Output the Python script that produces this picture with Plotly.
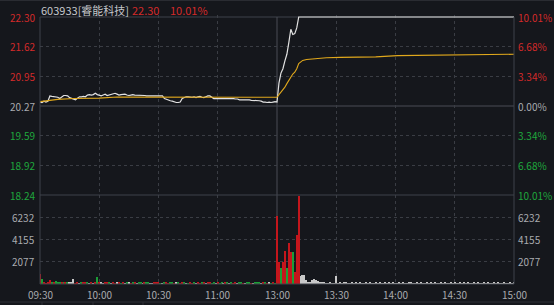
import plotly.graph_objects as go

# ---------------- data ----------------
stock_name = "603933[睿能科技]"
last_price = "22.30"
last_change = "10.01%"

time_labels = ["09:30", "10:00", "10:30", "11:00", "13:00", "13:30", "14:00", "14:30", "15:00"]
time_label_minute = [0, 30, 60, 90, 120, 150, 180, 210, 240]

price_levels = [22.30, 21.62, 20.95, 20.27, 19.59, 18.92, 18.24]
pct_labels = ["10.01%", "6.68%", "3.34%", "0.00%", "3.34%", "6.68%", "10.01%"]
level_side = ["up", "up", "up", "flat", "down", "down", "down"]
vol_levels = [2077, 4155, 6232]
vol_max = 8309

# morning price, one value per minute (09:30 .. 11:30)
price_am = [
    20.36, 20.35, 20.38, 20.36, 20.38, 20.50, 20.49, 20.48, 20.48, 20.47,
    20.44, 20.47, 20.51, 20.51, 20.50, 20.46, 20.44, 20.42, 20.41, 20.45,
    20.48, 20.48, 20.49, 20.48, 20.52, 20.53, 20.52, 20.53, 20.56, 20.53,
    20.52, 20.50, 20.52, 20.54, 20.51, 20.52, 20.53, 20.54, 20.56, 20.54,
    20.52, 20.53, 20.54, 20.54, 20.52, 20.51, 20.52, 20.53, 20.52, 20.52,
    20.52, 20.52, 20.51, 20.51, 20.50, 20.50, 20.51, 20.51, 20.51, 20.51,
    20.51, 20.51, 20.50, 20.44, 20.42, 20.40, 20.39, 20.38, 20.36, 20.35,
    20.35, 20.36, 20.44, 20.46, 20.48, 20.48, 20.47, 20.47, 20.48, 20.46,
    20.48, 20.49, 20.47, 20.46, 20.48, 20.50, 20.50, 20.47, 20.44, 20.44,
    20.44, 20.44, 20.45, 20.44, 20.44, 20.45, 20.44, 20.44, 20.44, 20.43,
    20.43, 20.41, 20.41, 20.42, 20.41, 20.41, 20.41, 20.40, 20.40, 20.40,
    20.39, 20.39, 20.38, 20.36, 20.36, 20.35, 20.36, 20.35, 20.36, 20.37,
    20.36,
]
# afternoon price (minute index, value); flat at limit-up after 13:11
price_pm_minute = [121, 122, 123, 124, 125, 126, 127, 128, 129, 130, 131, 240]
price_pm = [20.80, 21.02, 21.12, 21.30, 21.45, 21.72, 22.02, 21.90, 21.92, 22.05, 22.30, 22.30]

# average price line (minute index, value)
avg_minute = [0, 3, 6, 9, 17, 30, 39, 100, 101, 120, 121, 122, 123, 124, 125, 126, 127, 128,
              129, 130, 131, 132, 133, 135, 139, 145, 152, 170, 181, 218, 240]
avg_price = [20.37, 20.39, 20.41, 20.42, 20.44, 20.45, 20.475, 20.475, 20.465, 20.47, 20.53,
             20.58, 20.64, 20.70, 20.78, 20.86, 20.93, 21.00, 21.04, 21.12, 21.24, 21.28,
             21.31, 21.33, 21.35, 21.37, 21.38, 21.39, 21.42, 21.44, 21.45]

# volume per minute (0..240) and direction (r = up, g = down, w = unchanged)
volume = [
    930, 440, 120, 90, 220, 370, 140, 110, 280, 120,
    220, 110, 150, 100, 130, 140, 120, 440, 90, 110,
    80, 130, 140, 100, 150, 90, 160, 90, 120, 680,
    230, 120, 90, 110, 130, 120, 90, 100, 80, 130,
    110, 90, 100, 80, 120, 110, 90, 100, 130, 90,
    120, 100, 90, 110, 100, 120, 90, 80, 110, 130,
    100, 90, 80, 120, 140, 90, 100, 110, 90, 100,
    120, 90, 110, 100, 90, 80, 100, 90, 110, 90,
    100, 90, 130, 110, 90, 200, 100, 90, 110, 80,
    100, 90, 110, 80, 120, 100, 90, 110, 90, 100,
    90, 110, 100, 80, 90, 100, 120, 90, 80, 100,
    200, 110, 90, 120, 100, 90, 100, 80, 110, 90,
    6350, 2030, 1520, 2030, 3080, 1520, 3860, 3020, 3020, 1090,
    4580, 8250, 780, 840, 840, 370, 190, 190, 370, 470,
    370, 280, 190, 110, 110, 90, 90, 110, 90, 90,
    750, 90, 110, 90, 100, 120, 90, 90, 110, 90,
    100, 90, 120, 90, 90, 100, 90, 110, 90, 90,
    120, 90, 100, 90, 90, 110, 90, 100, 90, 120,
    90, 90, 100, 90, 110, 90, 90, 100, 120, 90,
    90, 110, 90, 100, 90, 90, 120, 90, 100, 90,
    110, 90, 90, 100, 90, 120, 90, 90, 110, 90,
    100, 90, 90, 120, 90, 100, 90, 110, 90, 90,
    100, 90, 120, 90, 90, 110, 90, 100, 90, 90,
    110, 90, 100, 90, 90, 120, 90, 90, 100, 90,
    150,
]
direction = (
    "rgrrrrgrgg" "grgrgwwwrr" "wgrrgwrwrg" "rwwrrgwrrw" "rgrwgwrgrw"
    "ggwrggwwrr" "rgwgrrggrw" "grrgwgrrgw" "rrgrwrrggw" "rggwrgwgrr"
    "wggrwggrwg" "ggwrgrwgrg"
    "rrgrrgrrgr" "rrwwwwwwww" "wwwwwwwwww" "wwwwwwwwww" "wwwwwwwwww"
    "wwwwwwwwww" "wwwwwwwwww" "wwwwwwwwww" "wwwwwwwwww" "wwwwwwwwww"
    "wwwwwwwwww" "wwwwwwwwww" "w"
)

# ---------------- styles ----------------
W, H = 554, 305
BG = "#15171c"
RED = "#d42a2a"
GREEN = "#1fa83c"
GREY = "#a9abaf"
GRID = "#3a3d44"
FRAME = "#3f424a"
FONT = "Noto Sans CJK SC, Liberation Sans, sans-serif"
BAR_COLORS = {"r": "#c4161c", "g": "#1c9e36", "w": "#c8c8c8"}
SIDE_COLORS = {"up": RED, "down": GREEN, "flat": GREY}

PL, PR, PT, PM, PB = 40, 514, 17, 195, 284
PAD = 2  # extra pixels above the price panel so the limit-up line is not clipped


def px(x):
    return x / W


def py(y):
    return 1 - y / H


price_per_px = (price_levels[0] - price_levels[-1]) / (PM - PT)

minutes_am = list(range(len(price_am)))
minutes_all = list(range(len(volume)))

fig = go.Figure()
fig.add_trace(go.Scatter(x=minutes_am + price_pm_minute, y=price_am + price_pm, mode="lines",
                         line=dict(color="#e2e2e2", width=1.2), xaxis="x", yaxis="y",
                         hoverinfo="skip"))
fig.add_trace(go.Scatter(x=avg_minute, y=avg_price, mode="lines",
                         line=dict(color="#e0a81c", width=1.1), xaxis="x", yaxis="y",
                         hoverinfo="skip"))
fig.add_trace(go.Bar(x=minutes_all, y=volume, width=0.7,
                     marker=dict(color=[BAR_COLORS[d] for d in direction], line=dict(width=0)),
                     xaxis="x2", yaxis="y2", hoverinfo="skip"))

grid_minutes = [m for m in time_label_minute if m not in (0, 120, 240)]
axis_common = dict(showline=False, zeroline=False, showticklabels=False, ticks="",
                   gridcolor=GRID, griddash="dot", gridwidth=1)
fig.update_layout(
    width=W, height=H, margin=dict(l=0, r=0, t=0, b=0),
    paper_bgcolor=BG, plot_bgcolor=BG, showlegend=False, bargap=0,
    xaxis=dict(domain=[px(PL), px(PR)], range=[0, 240], tickvals=grid_minutes,
               anchor="y", **axis_common),
    yaxis=dict(domain=[py(PM), py(PT - PAD)],
               range=[price_levels[-1], price_levels[0] + PAD * price_per_px],
               tickvals=price_levels[1:3] + price_levels[4:6],
               anchor="x", **axis_common),
    xaxis2=dict(domain=[px(PL), px(PR)], range=[0, 240], tickvals=grid_minutes,
                anchor="y2", **axis_common),
    yaxis2=dict(domain=[py(PB), py(PM)], range=[0, vol_max], tickvals=vol_levels,
                anchor="x2", **axis_common),
)

shapes = []


def hline(y, color=FRAME, x0=PL, x1=PR, width=1, layer="above"):
    shapes.append(dict(type="line", xref="paper", yref="paper", x0=px(x0), x1=px(x1),
                       y0=py(y), y1=py(y), line=dict(color=color, width=width), layer=layer))


def vline(x, y0, y1, color=FRAME, width=1, layer="above"):
    shapes.append(dict(type="line", xref="paper", yref="paper", x0=px(x), x1=px(x),
                       y0=py(y0), y1=py(y1), line=dict(color=color, width=width), layer=layer))


hline(PT, layer="below")
hline(PM)
hline(PB)
hline(0.5, color="#2a2c32", x0=0, x1=W)
hline(302, color="#2e3037", x0=0, x1=W)
for bx in (42, 93, 143):
    vline(bx, 302, 305, color="#2e3037")
vline(PL, PT, PB)
vline(PR, PT, PB)
shapes.append(dict(type="line", xref="x", yref="y", x0=0, x1=240, layer="below",
                   y0=price_levels[3], y1=price_levels[3], line=dict(color="#4a4d55", width=1)))
shapes.append(dict(type="line", xref="x", yref="paper", x0=120, x1=120, layer="below",
                   y0=py(PB), y1=py(PT), line=dict(color="#4a4d55", width=1)))
fig.update_layout(shapes=shapes)

ann = []
for v, lab, side in zip(price_levels, pct_labels, level_side):
    c = SIDE_COLORS[side]
    ann.append(dict(x=px(PL - 3), y=v, xref="paper", yref="y", text=f"{v:.2f}",
                    xanchor="right", yanchor="middle", showarrow=False,
                    font=dict(color=c, size=10, family=FONT)))
    ann.append(dict(x=px(PR + 2), y=v, xref="paper", yref="y", text=lab,
                    xanchor="left", yanchor="middle", showarrow=False,
                    font=dict(color=c, size=10, family=FONT)))
for v in vol_levels:
    ann.append(dict(x=px(PL - 3), y=v, xref="paper", yref="y2", text=str(v),
                    xanchor="right", yanchor="middle", showarrow=False,
                    font=dict(color=GREY, size=10, family=FONT)))
    ann.append(dict(x=px(PR + 2), y=v, xref="paper", yref="y2", text=str(v),
                    xanchor="left", yanchor="middle", showarrow=False,
                    font=dict(color=GREY, size=10, family=FONT)))
for m, lab in zip(time_label_minute, time_labels):
    ann.append(dict(x=m, y=py(294.5), xref="x2", yref="paper", text=lab,
                    xanchor="center", yanchor="middle", showarrow=False,
                    font=dict(color=GREY, size=10, family=FONT)))
ann.append(dict(x=px(39), y=py(9.5), xref="paper", yref="paper", text=stock_name,
                xanchor="left", yanchor="middle", showarrow=False,
                font=dict(color="#c4c6ca", size=11, family=FONT)))
ann.append(dict(x=px(130), y=py(9.5), xref="paper", yref="paper", text=last_price,
                xanchor="left", yanchor="middle", showarrow=False,
                font=dict(color=RED, size=11, family=FONT)))
ann.append(dict(x=px(168), y=py(9.5), xref="paper", yref="paper", text=last_change,
                xanchor="left", yanchor="middle", showarrow=False,
                font=dict(color=RED, size=11, family=FONT)))
fig.update_layout(annotations=ann)

fig.write_html("out.html")
